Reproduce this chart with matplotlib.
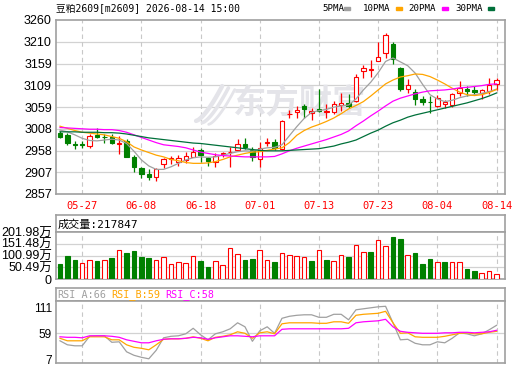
import numpy as np
import matplotlib
matplotlib.use('Agg')
import matplotlib.pyplot as plt
from matplotlib.patches import Rectangle

plt.rcParams['font.family'] = ['Liberation Sans', 'Noto Sans CJK SC']
MONO = ['DejaVu Sans Mono', 'Noto Sans CJK SC']

# ---- data ----
dates = ['05-22', '05-25', '05-26', '05-27', '05-28', '05-29', '06-01', '06-02', '06-03', '06-04',
         '06-05', '06-08', '06-09', '06-10', '06-11', '06-12', '06-15', '06-16', '06-17', '06-18',
         '06-22', '06-23', '06-24', '06-25', '06-26', '06-29', '06-30', '07-01', '07-02', '07-03',
         '07-06', '07-07', '07-08', '07-09', '07-10', '07-13', '07-14', '07-15', '07-16', '07-17',
         '07-20', '07-21', '07-22', '07-23', '07-24', '07-27', '07-28', '07-29', '07-30', '07-31',
         '08-03', '08-04', '08-05', '08-06', '08-07', '08-10', '08-11', '08-12', '08-13', '08-14']

opens = [2998, 2994, 2972, 2972, 2968, 2994, 2990, 2990, 2972, 2980,
         2943, 2918, 2903, 2896, 2926, 2937, 2932, 2936, 2943, 2960,
         2940, 2932, 2950, 2954, 2959, 2973, 2960, 2937, 2975, 2978,
         2961, 3042, 3047, 3061, 3044, 3053, 3047, 3046, 3064, 3067,
         3073, 3142, 3145, 3165, 3183, 3204, 3148, 3101, 3094, 3077,
         3070, 3061, 3066, 3063, 3091, 3101, 3099, 3092, 3095, 3111]
highs = [3003, 2998, 2980, 2980, 2996, 3009, 2995, 2996, 2992, 2984,
         2947, 2920, 2915, 2918, 2940, 2946, 2947, 2955, 2966, 2964,
         2943, 2953, 2955, 2965, 2984, 2986, 2966, 2977, 2986, 2984,
         3028, 3051, 3060, 3065, 3057, 3100, 3066, 3072, 3092, 3088,
         3135, 3156, 3167, 3210, 3231, 3209, 3152, 3124, 3101, 3084,
         3083, 3086, 3074, 3090, 3119, 3107, 3107, 3101, 3125, 3126]
lows = [2986, 2970, 2961, 2964, 2964, 2986, 2974, 2972, 2950, 2942,
        2909, 2893, 2889, 2888, 2918, 2926, 2922, 2928, 2942, 2932,
        2922, 2920, 2943, 2919, 2957, 2961, 2934, 2920, 2968, 2959,
        2958, 3032, 3033, 3034, 3028, 3047, 3033, 3042, 3049, 3056,
        3070, 3125, 3127, 3164, 3171, 3157, 3096, 3090, 3063, 3063,
        3045, 3059, 3056, 3059, 3084, 3085, 3086, 3076, 3089, 3099]
closes = [2990, 2974, 2970, 2970, 2991, 2988, 2989, 2974, 2974, 2943,
          2919, 2903, 2896, 2915, 2937, 2940, 2940, 2945, 2955, 2947,
          2934, 2946, 2951, 2955, 2973, 2966, 2943, 2963, 2977, 2963,
          3025, 3043, 3052, 3053, 3050, 3050, 3049, 3065, 3067, 3060,
          3129, 3148, 3146, 3175, 3226, 3170, 3100, 3109, 3076, 3070,
          3069, 3079, 3071, 3089, 3102, 3096, 3094, 3098, 3109, 3121]

ma5 = [3005, 3001, 2994, 2986, 2981, 2980, 2982, 2984, 2982, 2974,
       2956, 2936, 2922, 2914, 2914, 2920, 2928, 2936, 2941, 2943,
       2942, 2943, 2947, 2951, 2955, 2957, 2956, 2961, 2964, 2965,
       2971, 2992, 3013, 3032, 3046, 3050, 3053, 3058, 3061, 3063,
       3077, 3098, 3116, 3138, 3164, 3172, 3163, 3154, 3137, 3111,
       3087, 3077, 3071, 3074, 3080, 3084, 3087, 3090, 3094, 3100]
ma10 = [3014, 3009, 3004, 3000, 2998, 2996, 2994, 2990, 2986, 2978,
        2966, 2959, 2953, 2947, 2943, 2937, 2934, 2930, 2928, 2928,
        2929, 2932, 2937, 2943, 2947, 2951, 2954, 2955, 2958, 2961,
        2964, 2976, 2993, 3004, 3012, 3018, 3025, 3033, 3043, 3054,
        3062, 3071, 3084, 3098, 3112, 3121, 3128, 3131, 3135, 3134,
        3129, 3121, 3112, 3102, 3093, 3087, 3085, 3087, 3092, 3099]
ma20 = [3011, 3010, 3009, 3008, 3007, 3007, 3006, 3006, 3004, 3000,
        2994, 2988, 2982, 2976, 2971, 2969, 2967, 2964, 2959, 2954,
        2951, 2948, 2946, 2945, 2944, 2943, 2943, 2943, 2943, 2944,
        2950, 2957, 2963, 2968, 2973, 2978, 2983, 2989, 2995, 3003,
        3015, 3026, 3038, 3049, 3061, 3072, 3079, 3084, 3089, 3093,
        3096, 3097, 3098, 3100, 3103, 3104, 3106, 3108, 3111, 3112]
ma30 = [3001, 3001, 3001, 3000, 3000, 3000, 2999, 2999, 2998, 2996,
        2993, 2990, 2987, 2985, 2983, 2981, 2979, 2977, 2975, 2974,
        2972, 2970, 2968, 2966, 2964, 2962, 2960, 2958, 2957, 2957,
        2957, 2958, 2959, 2960, 2961, 2962, 2965, 2968, 2973, 2977,
        2982, 2990, 2998, 3005, 3014, 3022, 3028, 3035, 3040, 3044,
        3048, 3052, 3056, 3060, 3064, 3068, 3073, 3078, 3084, 3091]

volumes = [645000, 988000, 816000, 673000, 816000, 773000, 816000, 902000, 1232000, 1117000,
           1203000, 945000, 902000, 816000, 931000, 645000, 730000, 688000, 974000, 773000,
           516000, 773000, 587000, 1318000, 1074000, 816000, 859000, 1246000, 816000, 730000,
           1103000, 1017000, 974000, 931000, 773000, 1246000, 816000, 773000, 1017000, 945000,
           1447000, 1160000, 1160000, 1662000, 1418000, 1805000, 1719000, 1017000, 1117000, 645000,
           846000, 730000, 730000, 730000, 730000, 430000, 344000, 244000, 344000, 217847]
vol_up = [0, 0, 0, 1, 1, 0, 1, 0, 1, 0,
          0, 0, 0, 1, 1, 1, 1, 1, 1, 0,
          0, 1, 1, 1, 1, 0, 0, 1, 1, 0,
          1, 1, 1, 1, 0, 1, 0, 1, 1, 0,
          1, 1, 0, 1, 1, 0, 0, 1, 0, 0,
          0, 1, 0, 1, 1, 0, 0, 1, 1, 1]

rsi_a = [44, 36, 34, 34, 53, 54, 54, 41, 42, 22,
         15, 11, 8, 25, 50, 53, 54, 58, 69, 56,
         46, 58, 62, 68, 80, 72, 43, 64, 72, 59,
         89, 93, 95, 96, 96, 91, 91, 97, 97, 86,
         106, 108, 110, 112, 113, 80, 46, 47, 39, 36,
         36, 42, 40, 49, 60, 58, 54, 58, 66, 75]
rsi_b = [49, 44, 44, 44, 52, 52, 52, 46, 46, 36,
         31, 29, 26, 36, 47, 48, 48, 49, 52, 49,
         44, 51, 53, 56, 62, 59, 49, 60, 62, 58,
         78, 80, 80, 80, 80, 79, 79, 82, 82, 79,
         95, 97, 98, 99, 103, 80, 59, 60, 52, 51,
         51, 51, 53, 56, 59, 60, 58, 58, 61, 63]
rsi_c = [52, 51, 51, 50, 54, 54, 54, 53, 51, 46,
         43, 40, 40, 44, 47, 48, 48, 49, 51, 50,
         47, 50, 52, 54, 54, 53, 52, 54, 54, 54,
         67, 68, 68, 68, 68, 68, 68, 68, 68, 69,
         80, 82, 83, 84, 87, 72, 63, 61, 60, 59,
         59, 59, 60, 60, 61, 61, 60, 61, 62, 65]

price_labels = ['2857', '2907', '2958', '3008', '3059', '3109', '3159', '3210', '3260']
vol_labels = ['0', '50.49万', '100.99万', '151.48万', '201.98万']
rsi_ticks = [7, 59, 111]

RED = '#ff0000'
GREEN = '#008000'
MA_COLORS = ['#a0a0a0', '#ffa500', '#ff00ff', '#00703a']
BORDER = '#a0a0a0'
GRID = '#d2d2d2'
WATER = '#e4e4e9'

W, H = 520, 365
fig = plt.figure(figsize=(W / 100, H / 100), dpi=100)


def add_ax(x0, y0, x1, y1):
    a = fig.add_axes([x0 / W, 1 - y1 / H, (x1 - x0) / W, (y1 - y0) / H])
    for s in a.spines.values():
        s.set_color(BORDER)
        s.set_linewidth(1.2)
    a.tick_params(length=0, labelsize=9, pad=3)
    return a


x = np.arange(len(dates))
o = np.array(opens, float)
c = np.array(closes, float)
up = c >= o
cols = np.where(up, RED, GREEN)
xlim = (-0.54, 60.14)
date_idx = list(range(3, len(dates), 8))


def vgrid(a):
    for i in date_idx:
        a.axvline(i, color='#c8c8c8', lw=0.8, ls=(0, (4, 3)), zorder=0)


# ---- main candle panel ----
ax = add_ax(56, 20, 505, 194)
ax.set_xlim(*xlim)
ax.set_ylim(2857, 3260)
ax.set_yticks(np.linspace(2857, 3260, 9))
ax.set_yticklabels(price_labels)
for yv in np.linspace(2857, 3260, 9)[1:-1]:
    ax.axhline(yv, color=GRID, lw=0.9, zorder=0)
vgrid(ax)
ax.set_xticks(date_idx)
ax.set_xticklabels([dates[i] for i in date_idx], color=RED, family=MONO, fontsize=7.5)
ax.tick_params(axis='x', pad=5)

# faint watermark
ax.text(0.54, 0.515, '东方财富', transform=ax.transAxes, fontsize=24, fontweight='bold',
        color=WATER, ha='center', va='center', family='Noto Sans CJK SC', zorder=0.5)
t = np.linspace(0, 1, 40)
for k in range(3):
    lx = 0.312 + 0.058 * t ** 0.7 + 0.014 * k
    ly = 0.42 + 0.2 * t - 0.01 * k
    ax.plot(lx, ly, transform=ax.transAxes, color=WATER, lw=3.2 - 0.6 * k, zorder=0.5,
            solid_capstyle='round')

ax.vlines(x, lows, highs, colors=cols, lw=0.9, zorder=2)
ax.bar(x, np.maximum(np.abs(c - o), 0.8), bottom=np.minimum(o, c), width=0.6,
       color=np.where(up, 'white', GREEN), edgecolor=cols, linewidth=0.8, zorder=3)
for ma, col in zip([ma5, ma10, ma20, ma30], MA_COLORS):
    ax.plot(x, ma, color=col, lw=0.9, zorder=4)

# title and MA legend
fig.text(56 / W, 1 - 8.5 / H, '豆粕2609[m2609] 2026-08-14 15:00', family=MONO, fontsize=7,
         va='center')
leg_names = ['5PMA', '10PMA', '20PMA', '30PMA']
leg_text_x = [322, 363, 408, 455]
leg_box_x = [344, 396, 442, 488]
for name, tx, bx, col in zip(leg_names, leg_text_x, leg_box_x, MA_COLORS):
    fig.text(tx / W, 1 - 8.5 / H, name, family=MONO, fontsize=6.6, va='center')
    fig.add_artist(Rectangle((bx / W, 1 - 9.5 / H), 6 / W, 3 / H, transform=fig.transFigure,
                             color=col))

# ---- volume panel ----
vt = add_ax(56, 215, 505, 232)
vt.set_xticks([])
vt.set_yticks([])
vt.text(0.004, 0.45, '成交量:217847', transform=vt.transAxes, family=MONO, fontsize=8,
        va='center')

vax = add_ax(56, 232, 505, 279)
vax.set_xlim(*xlim)
vmax = 2019800
vax.set_ylim(0, vmax)
vax.set_yticks(np.linspace(0, vmax, 5))
vax.set_yticklabels(vol_labels)
vax.set_xticks([])
for yv in np.linspace(0, vmax, 5)[1:-1]:
    vax.axhline(yv, color=GRID, lw=0.9, zorder=0)
vgrid(vax)
vup = np.array(vol_up) == 1
vax.bar(x, volumes, width=0.62, color=np.where(vup, 'white', GREEN),
        edgecolor=np.where(vup, RED, GREEN), linewidth=0.8, zorder=3)

# ---- RSI panel ----
rt = add_ax(56, 288, 505, 300.7)
rt.set_xticks([])
rt.set_yticks([])
for txt, tx, col in zip(['RSI_A:66', 'RSI_B:59', 'RSI_C:58'], [57, 111.5, 165.5],
                        ['#a0a0a0', '#ffa500', '#ff00ff']):
    fig.text(tx / W, 1 - 294.5 / H, txt, family=MONO, fontsize=7.3, color=col, va='center')

rax = add_ax(56, 300.7, 505, 363.3)
rax.set_xlim(*xlim)
rax.set_ylim(-1, 124.2)
rax.set_yticks(rsi_ticks)
rax.set_xticks([])
rax.tick_params(axis='y', labelsize=8.6)
for lab in rax.get_yticklabels():
    lab.set_verticalalignment('center_baseline')
rax.axhline(59, color=GRID, lw=0.9, zorder=0)
vgrid(rax)
for r, col in zip([rsi_a, rsi_b, rsi_c], ['#a0a0a0', '#ffa500', '#ff00ff']):
    rax.plot(x, r, color=col, lw=0.9, zorder=3)

fig.savefig('out.png', dpi=100)
